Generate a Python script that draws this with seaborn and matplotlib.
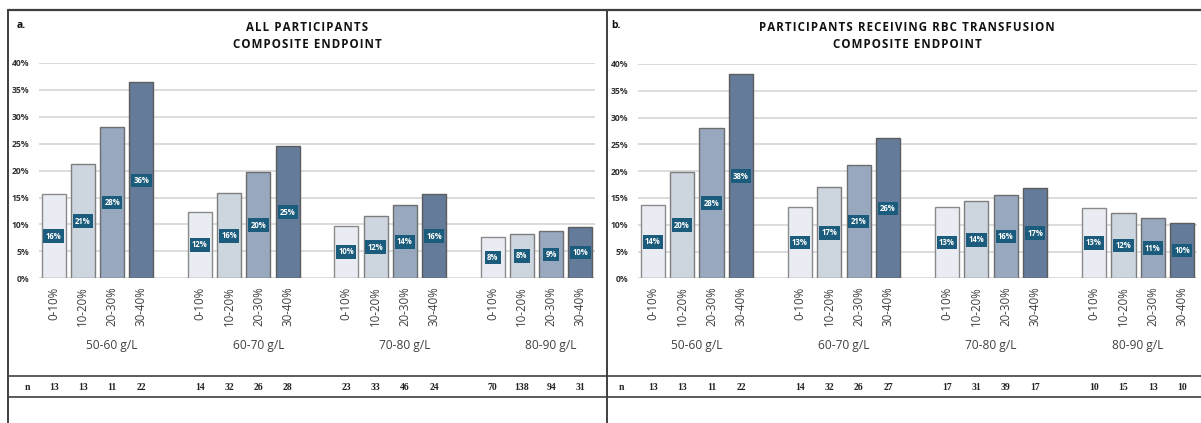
import numpy as np
import pandas as pd
import matplotlib
matplotlib.use("Agg")
import matplotlib.pyplot as plt
from matplotlib.lines import Line2D
from matplotlib.transforms import blended_transform_factory
import seaborn as sns

# Haemoglobin groups and transfusion-fraction bands
hb_groups = ["50-60 g/L", "60-70 g/L", "70-80 g/L", "80-90 g/L"]
bands = ["0-10%", "10-20%", "20-30%", "30-40%"]

# Composite endpoint rate (%) per group x band, and n per bar
all_rate = [15.6, 21.2, 28.2, 36.4,
            12.4, 15.8, 19.8, 24.6,
            9.8, 11.6, 13.6, 15.7,
            7.7, 8.3, 8.8, 9.6]
all_n = [13, 13, 11, 22, 14, 32, 26, 28, 23, 33, 46, 24, 70, 138, 94, 31]

rbc_rate = [13.6, 19.8, 28.0, 38.1,
            13.4, 17.0, 21.2, 26.1,
            13.4, 14.4, 15.6, 16.8,
            13.2, 12.2, 11.3, 10.4]
rbc_n = [13, 13, 11, 22, 14, 32, 26, 27, 17, 31, 39, 17, 10, 15, 13, 10]

panel_letters = ["a.", "b."]
panel_titles = ["ALL PARTICIPANTS\nCOMPOSITE ENDPOINT",
                "PARTICIPANTS RECEIVING RBC TRANSFUSION\nCOMPOSITE ENDPOINT"]
y_ticks = [0, 5, 10, 15, 20, 25, 30, 35, 40]

bar_colors = ["#E9EDF3", "#CDD5DF", "#98A8BE", "#647B9A"]
edge_colors = ["#8A8A8A", "#7E7E7E", "#6E6E6E", "#5C5C5C"]
label_bg = "#1B5C7C"
frame_col = "#3F3F3F"

sns.set_theme(style="white")
plt.rcParams["font.family"] = ["Open Sans", "DejaVu Sans"]

W, H = 1201, 423
fig = plt.figure(figsize=(W / 100, H / 100), dpi=100)


def spaced(text):
    """Spread capital letters a little, line by line."""
    return "\n".join("\u200a".join(line) for line in text.split("\n"))


def make_frame(rate, n):
    rows = []
    for g, grp in enumerate(hb_groups):
        for b, band in enumerate(bands):
            i = g * 4 + b
            rows.append({"group": grp, "band": band, "pos": g * 5 + b,
                         "rate": rate[i], "n": n[i]})
    return pd.DataFrame(rows)


panels = [
    dict(df=make_frame(all_rate, all_n), box=(39, 595, 63, 278.3),
         grp_shift=0.5, n_x=27, letter_x=17, frame=(8, 607)),
    dict(df=make_frame(rbc_rate, rbc_n), box=(638, 1197, 64, 278.3),
         grp_shift=0.0, n_x=621, letter_x=611, frame=(607, 1207)),
]

for k, p in enumerate(panels):
    x0, x1, ytop, ybot = p["box"]
    ax = fig.add_axes([x0 / W, 1 - ybot / H, (x1 - x0) / W, (ybot - ytop) / H])
    df = p["df"]

    sns.barplot(data=df, x="pos", y="rate", hue="band", hue_order=bands,
                palette=bar_colors, saturation=1, native_scale=True,
                dodge=False, width=0.82, linewidth=1.0, legend=False, ax=ax,
                zorder=3)
    for cont, ec in zip(ax.containers, edge_colors):
        for bar in cont:
            bar.set_edgecolor(ec)

    ax.set_xlim(-0.5, 18.5)
    ax.set_ylim(0, 40)
    ax.set_yticks(y_ticks)
    ax.set_yticklabels([f"{t}%" for t in y_ticks], fontsize=6.2,
                       fontweight="bold", color="#333333")
    ax.yaxis.grid(True, color="#D9D9D9", linewidth=1.3, zorder=0)
    ax.set_axisbelow(True)
    for s in ax.spines.values():
        s.set_visible(False)
    ax.tick_params(axis="both", length=0)
    ax.tick_params(axis="y", pad=7)
    ax.tick_params(axis="x", pad=6)
    ax.set_xticks(df["pos"])
    ax.set_xticklabels(df["band"], rotation=90, fontsize=8.3, color="#404040")
    ax.set_xlabel("")
    ax.set_ylabel("")

    # value tags in the middle of each bar
    for _, r in df.iterrows():
        ax.text(r["pos"], r["rate"] / 2, f"{int(round(r['rate']))}%",
                ha="center", va="center", fontsize=5.6, fontweight="bold",
                color="white", zorder=5,
                bbox=dict(boxstyle="square,pad=0.3", fc=label_bg, ec="none"))

    # group labels under the band labels
    tr = blended_transform_factory(ax.transData, fig.transFigure)
    for g, grp in enumerate(hb_groups):
        ax.text(g * 5 + 1.5 + p["grp_shift"], 1 - 345.5 / H, grp,
                transform=tr, ha="center", va="center", fontsize=8.6,
                color="#404040")

    # n row
    serif = ["Liberation Serif", "DejaVu Serif"]
    for _, r in df.iterrows():
        ax.text(r["pos"], 1 - 387 / H, str(r["n"]), transform=tr,
                ha="center", va="center", fontsize=7, fontweight="bold",
                color="#222222", family=serif)
    fig.text(p["n_x"] / W, 1 - 387 / H, "n", ha="center", va="center",
             fontsize=7, fontweight="bold", color="#222222", family=serif)

    # panel letter and title
    fig.text(p["letter_x"] / W, 1 - 26 / H, panel_letters[k], ha="left",
             va="center", fontsize=7.5, fontweight="bold", color="#111111")
    fx0, fx1 = p["frame"]
    fig.text((fx0 + fx1) / 2 / W, 1 - 36 / H, spaced(panel_titles[k]),
             ha="center", va="center", fontsize=8.3, fontweight="bold",
             color="#111111", linespacing=1.4)

# frame lines
def fline(xs, ys, lw=1.4):
    fig.add_artist(Line2D([x / W for x in xs], [1 - y / H for y in ys],
                          color=frame_col, linewidth=lw))

fline([8, W], [10, 10], lw=1.6)
fline([8, 8], [10, H])
fline([607, 607], [10, H])
fline([8, W], [376, 376], lw=1.2)
fline([8, W], [397, 397], lw=1.2)

fig.savefig("out.png", dpi=100)
